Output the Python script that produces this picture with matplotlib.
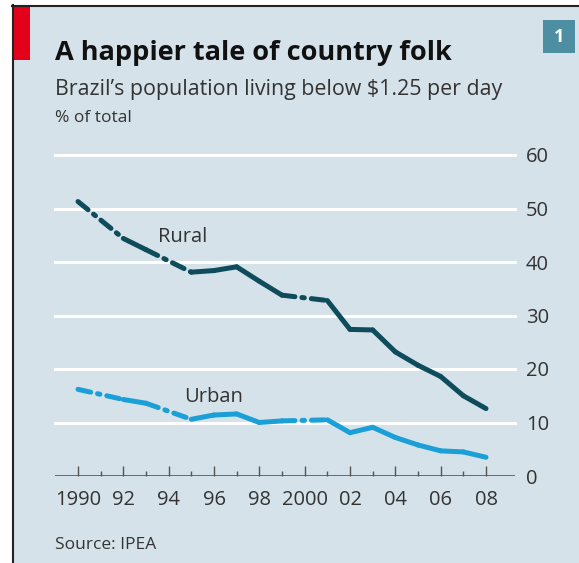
import numpy as np
import matplotlib
matplotlib.use("Agg")
import matplotlib.pyplot as plt
from matplotlib.patches import Rectangle

# Data; PNAD had no survey in 1991, 1994 and 2000
years = [1990, 1992, 1993, 1995, 1996, 1997, 1998, 1999,
         2001, 2002, 2003, 2004, 2005, 2006, 2007, 2008]
rural = [51.3, 44.4, 42.3, 38.1, 38.4, 39.1, 36.4, 33.8,
         32.8, 27.4, 27.3, 23.2, 20.7, 18.6, 15.0, 12.6]
urban = [16.2, 14.3, 13.6, 10.6, 11.4, 11.6, 10.0, 10.3,
         10.5, 8.1, 9.1, 7.2, 5.8, 4.7, 4.5, 3.5]

tick_years = list(range(1990, 2009, 2))
tick_labels = ["1990", "92", "94", "96", "98", "2000", "02", "04", "06", "08"]
y_ticks = [0, 10, 20, 30, 40, 50, 60]

bg = "#d5e2ea"
rural_col = "#0e4b5b"
urban_col = "#1a9fd6"
text_col = "#333333"

plt.rcParams['font.family'] = ['Open Sans', 'DejaVu Sans']

W, H = 579, 563
fig = plt.figure(figsize=(W / 100, H / 100), dpi=100)
fig.patch.set_facecolor("white")


def fx(px):
    return px / W


def fy(py):
    return 1 - py / H


# panel background and frame
fig.patches.append(Rectangle((fx(12), 0), 1, fy(5), transform=fig.transFigure,
                             facecolor=bg, edgecolor="none", zorder=-5))
fig.add_artist(plt.Line2D([fx(12.5), fx(12.5)], [0, fy(5)], color="#222222", lw=1.5))
fig.add_artist(plt.Line2D([fx(12), 1], [fy(5.5), fy(5.5)], color="#222222", lw=1.5))
# red tag
fig.patches.append(Rectangle((fx(13), fy(60)), fx(17), fy(6) - fy(60),
                             transform=fig.transFigure, facecolor="#e3001b",
                             edgecolor="none", zorder=1))
# chart number box
fig.patches.append(Rectangle((fx(543), fy(53)), fx(32), fy(20) - fy(53),
                             transform=fig.transFigure, facecolor="#4e8ea3",
                             edgecolor="none", zorder=1))
fig.text(fx(559), fy(37), "1", color="white", fontsize=13, fontweight="bold",
         ha="center", va="center")

# titles
fig.text(fx(55), fy(60), "A happier tale of country folk", fontsize=19.5,
         fontweight="bold", color="#111111", ha="left", va="baseline")
fig.text(fx(55), fy(95), "Brazil\u2019s population living below $1.25 per day",
         fontsize=15.4, color=text_col, ha="left", va="baseline")
fig.text(fx(55), fy(122), "% of total", fontsize=12.5, color=text_col,
         ha="left", va="baseline")
fig.text(fx(55), fy(549), "Source: IPEA", fontsize=12.5, color=text_col,
         ha="left", va="baseline")

# axes
x0, x1 = 55, 515
ax = fig.add_axes([fx(x0), fy(476), fx(x1 - x0), fy(155) - fy(476)], zorder=2)
ax.set_facecolor("none")
px_per_year = (486 - 78) / 18
ax.set_xlim(1990 - (78 - x0) / px_per_year, 1990 + (x1 - 78) / px_per_year)
ax.set_ylim(0, 60)

for v in y_ticks[1:]:
    ax.axhline(v, color="white", lw=2.2, zorder=1, clip_on=False)
ax.axhline(0, color="#555555", lw=1.2, zorder=2)

for s in ax.spines.values():
    s.set_visible(False)

ax.yaxis.tick_right()
ax.set_yticks(y_ticks)
ax.set_yticklabels([str(v) for v in y_ticks], fontsize=14.5, color=text_col)
ax.tick_params(axis="y", length=0, pad=8)

ax.set_xticks(tick_years)
ax.set_xticklabels(tick_labels, fontsize=14.5, color=text_col)
ax.set_xticks(range(1991, 2009, 2), minor=True)
ax.tick_params(axis="x", which="major", direction="in", length=7, width=1,
               color="#555555", pad=10)
ax.tick_params(axis="x", which="minor", direction="in", length=3.5, width=1,
               color="#555555")


def draw_series(vals, col):
    for i in range(len(years) - 1):
        xs = years[i:i + 2]
        ys = vals[i:i + 2]
        if years[i + 1] - years[i] == 1:
            ax.plot(xs, ys, color=col, lw=3.6, solid_capstyle="round",
                    solid_joinstyle="round", zorder=3, clip_on=False)
        else:
            ax.plot(xs, ys, color=col, lw=3.6, dashes=(2.6, 1.4, 0.5, 1.4),
                    dash_capstyle="round", zorder=3, clip_on=False)


draw_series(rural, rural_col)
draw_series(urban, urban_col)

ax.text(1994.6, 44.7, "Rural", fontsize=14.5, color=text_col, ha="center", va="center")
ax.text(1996.0, 14.8, "Urban", fontsize=14.5, color=text_col, ha="center", va="center")

fig.savefig("out.png", dpi=100, facecolor=fig.get_facecolor())
